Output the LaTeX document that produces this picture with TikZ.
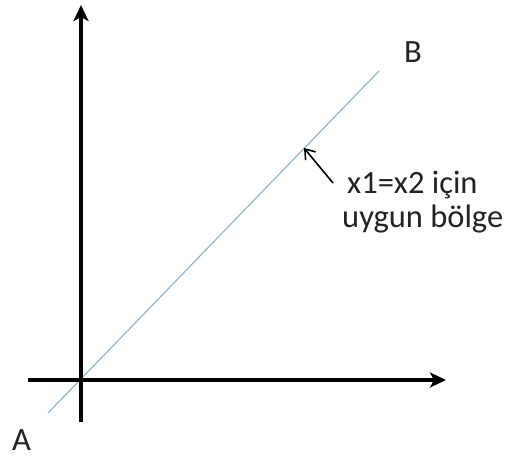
\documentclass[tikz,border=0pt]{standalone}
\usepackage{fontspec}
\setmainfont{Carlito}
\usetikzlibrary{arrows.meta}
\definecolor{diag}{RGB}{140,178,205}
\definecolor{txt}{RGB}{35,35,35}
\tikzset{
  axis/.style={line width=3.6pt, black, -{Stealth[length=16pt,width=15pt,inset=4pt]}},
  lbl/.style={font=\fontsize{32.5}{36}\selectfont, text=txt, inner sep=0pt},
  pointer/.style={line width=1.6pt, black, -{Straight Barb[length=9pt,width=13pt]}}
}
\begin{document}
\begin{tikzpicture}[x=1pt,y=-1pt]
\useasboundingbox (0,0) rectangle (505,460);
\coordinate (ybot) at (81,422);
\coordinate (ytop) at (81,5);
\coordinate (xleft) at (28,380);
\coordinate (xright) at (446,380);
\coordinate (dA) at (48,413);
\coordinate (dB) at (379,71);
\coordinate (pstart) at (333,183);
\coordinate (ptip) at (304,148);
\draw[line width=1.1pt, diag] (dA) -- (dB);
\draw[axis] (ybot) -- (ytop);
\draw[axis] (xleft) -- (xright);
\draw[pointer] (pstart) -- (ptip);
\node[lbl, anchor=base west] (B) at (404,62) {B};
\node[lbl, anchor=base west] (A) at (12,450) {A};
\node[lbl, anchor=base west] (t1) at (347,193) {x1=x2 için};
\node[lbl, anchor=base west] (t2) at (342,227) {uygun bölge};
\end{tikzpicture}
\end{document}
